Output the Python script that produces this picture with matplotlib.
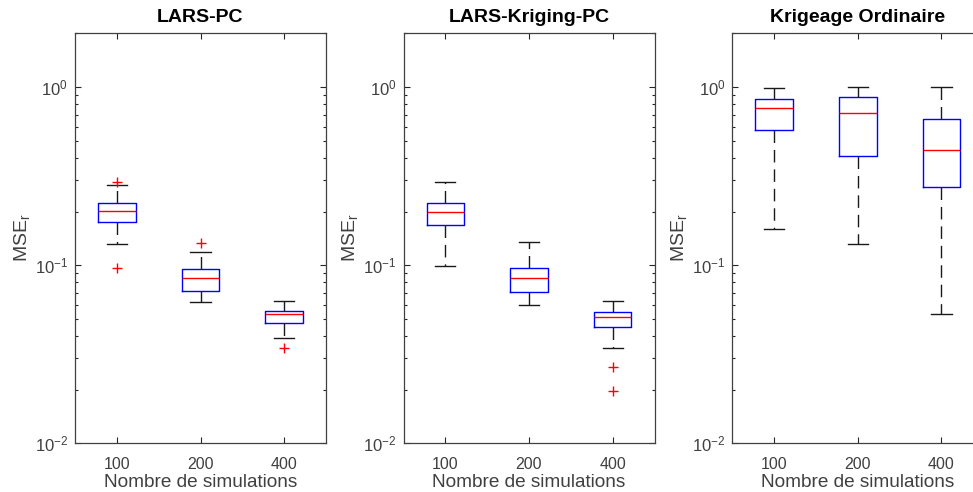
import matplotlib
matplotlib.use("Agg")
import matplotlib.pyplot as plt
from matplotlib.ticker import LogLocator, FixedLocator, FixedFormatter, NullFormatter

plt.rcParams['font.family'] = ['Liberation Sans', 'DejaVu Sans']
plt.rcParams['mathtext.fontset'] = 'custom'
plt.rcParams['mathtext.rm'] = 'Liberation Sans'
plt.rcParams['mathtext.it'] = 'Liberation Sans:italic'
plt.rcParams['mathtext.bf'] = 'Liberation Sans:bold'

titles = ["LARS-PC", "LARS-Kriging-PC", "Krigeage Ordinaire"]
categories = ["100", "200", "400"]

# per panel, per category: whislo, q1, median, q3, whishi
lars_pc_whislo = [0.132, 0.0625, 0.0388]
lars_pc_q1 = [0.174, 0.0720, 0.0474]
lars_pc_med = [0.201, 0.0844, 0.0530]
lars_pc_q3 = [0.224, 0.0956, 0.0556]
lars_pc_whishi = [0.282, 0.1184, 0.0627]
lars_pc_fliers = [[0.295, 0.0968], [0.1337], [0.0342]]

lkpc_whislo = [0.0985, 0.0598, 0.0342]
lkpc_q1 = [0.169, 0.0710, 0.0452]
lkpc_med = [0.198, 0.0844, 0.0512]
lkpc_q3 = [0.223, 0.0968, 0.0546]
lkpc_whishi = [0.295, 0.1347, 0.0627]
lkpc_fliers = [[], [], [0.0267, 0.0196]]

ko_whislo = [0.159, 0.132, 0.053]
ko_q1 = [0.576, 0.410, 0.274]
ko_med = [0.759, 0.715, 0.441]
ko_q3 = [0.860, 0.875, 0.664]
ko_whishi = [0.99, 1.0, 1.0]
ko_fliers = [[], [], []]

panels = [
    (lars_pc_whislo, lars_pc_q1, lars_pc_med, lars_pc_q3, lars_pc_whishi, lars_pc_fliers),
    (lkpc_whislo, lkpc_q1, lkpc_med, lkpc_q3, lkpc_whishi, lkpc_fliers),
    (ko_whislo, ko_q1, ko_med, ko_q3, ko_whishi, ko_fliers),
]

W, H = 973, 492
fig = plt.figure(figsize=(W / 100, H / 100), dpi=100)
lefts = [75 / W, 403.5 / W, 732.3 / W]
axw = 251 / W
bottom = (H - 443.3) / H
height = (443.3 - 32.7) / H

axcol = '#262626'
for i, (lo, q1, med, q3, hi, fl) in enumerate(panels):
    ax = fig.add_axes([lefts[i], bottom, axw, height])
    stats = []
    for j in range(len(categories)):
        stats.append(dict(whislo=lo[j], q1=q1[j], med=med[j], q3=q3[j],
                          whishi=hi[j], fliers=fl[j], label=categories[j]))
    ax.bxp(stats, positions=[1, 2, 3], widths=0.45, capwidths=0.24,
           showfliers=True,
           boxprops=dict(color='#0000ff', linewidth=1.0),
           medianprops=dict(color='#ff0000', linewidth=1.0),
           whiskerprops=dict(color='#1a1a1a', linewidth=1.0, linestyle=(0, (9, 5))),
           capprops=dict(color='#1a1a1a', linewidth=1.0),
           flierprops=dict(marker='+', markeredgecolor='#ff0000', markersize=7.5,
                           markeredgewidth=1.0, linestyle='none'))
    ax.set_yscale('log')
    ax.set_ylim(0.01, 2.02)
    ax.set_xlim(0.5, 3.5)
    ax.xaxis.set_major_locator(FixedLocator([1, 2, 3]))
    ax.xaxis.set_major_formatter(FixedFormatter(categories))
    ax.yaxis.set_major_locator(FixedLocator([0.01, 0.1, 1.0]))
    ax.yaxis.set_major_formatter(FixedFormatter([r'$10^{-2}$', r'$10^{-1}$', r'$10^{0}$']))
    ax.yaxis.set_minor_locator(LogLocator(base=10, subs=range(2, 10)))
    ax.yaxis.set_minor_formatter(NullFormatter())
    ax.tick_params(axis='both', which='both', direction='in', top=True, right=True,
                   colors=axcol, labelcolor='#404040')
    ax.tick_params(axis='x', which='major', labelsize=11.5, pad=10)
    ax.tick_params(axis='y', which='major', labelsize=12, pad=5)
    ax.tick_params(axis='both', which='major', length=4, width=0.8)
    ax.tick_params(axis='y', which='minor', length=2.5, width=0.8)
    for s in ax.spines.values():
        s.set_color('#404040')
        s.set_linewidth(0.9)
    ax.set_title(titles[i], fontsize=14, fontweight='bold', color='black', pad=8)
    ax.set_xlabel('Nombre de simulations', fontsize=13.7, color='#404040', labelpad=1)
    ax.set_ylabel(r'MSE$_\mathregular{r}$', fontsize=14, color='#404040', labelpad=2)

fig.savefig('out.png', dpi=100)
